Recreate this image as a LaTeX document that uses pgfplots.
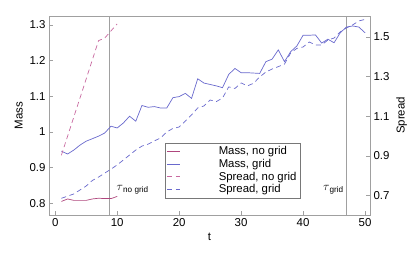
\documentclass[border=0pt]{standalone}
\usepackage{fontspec}
\setmainfont{Liberation Sans}
\usepackage{pgfplots}
\pgfplotsset{compat=1.18}
\definecolor{mag}{RGB}{175,70,125}
\definecolor{magl}{RGB}{200,105,160}
\definecolor{blu}{RGB}{105,105,205}
\definecolor{frm}{RGB}{160,160,160}
\begin{document}
\begin{tikzpicture}
\useasboundingbox (-49bp,-44bp) rectangle (367bp,215bp);
\pgfplotsset{
  base/.style={
    scale only axis, width=321bp, height=199bp,
    xmin=-1, xmax=50.8,
    font=\fontsize{11.5}{13}\selectfont,
    /pgf/number format/assume math mode=true,
    axis line style={frm},
    major tick style={frm},
    major tick length=4bp,
    tick align=inside,
  }
}
\begin{axis}[base,
  ymin=0.767, ymax=1.325,
  xtick={0,10,20,30,40,50},
  ytick={0.8,0.9,1,1.1,1.2,1.3},
  yticklabels={0.8,0.9,1,1.1,1.2,1.3},
  xtick pos=left, ytick pos=left,
  xlabel={t}, ylabel={Mass},
]
\addplot[frm, line width=0.6bp, forget plot] coordinates {(8.75,0.767) (8.75,1.325)};
\addplot[frm, line width=0.6bp, forget plot] coordinates {(47,0.767) (47,1.325)};
\addplot[mag, line width=0.7bp] coordinates {
(1,0.805) (2,0.812) (3,0.808) (4,0.808) (5,0.808) (6,0.812) (7,0.814) (8,0.813) (9,0.813) (10,0.819)};
\addplot[blu, line width=0.7bp] coordinates {
(1,0.946) (2,0.938) (3,0.949) (4,0.963) (5,0.974) (6,0.981) (7,0.988) (8,0.997) (9,1.016) (10,1.011)
(11,1.025) (12,1.044) (13,1.030) (14,1.074) (15,1.069) (16,1.071) (17,1.067) (18,1.067) (19,1.096) (20,1.099)
(21,1.108) (22,1.094) (23,1.149) (24,1.137) (25,1.133) (26,1.129) (27,1.124) (28,1.161) (29,1.178) (30,1.166)
(31,1.166) (32,1.165) (33,1.164) (34,1.197) (35,1.204) (36,1.230) (37,1.197) (38,1.225) (39,1.241) (40,1.271)
(41,1.271) (42,1.272) (43,1.249) (44,1.260) (45,1.250) (46,1.278) (47,1.294) (48,1.297) (49,1.294) (50,1.278)};
\node[anchor=base west, inner sep=0pt] at (axis cs:9.9,0.836) {$\tau$\raisebox{-2bp}{\fontsize{8.2}{9}\selectfont no grid}};
\node[anchor=base west, inner sep=0pt] at (axis cs:43.2,0.836) {$\tau$\raisebox{-2bp}{\fontsize{8.2}{9}\selectfont grid}};
\end{axis}
\begin{axis}[base,
  ymin=0.602, ymax=1.604,
  axis x line=none, axis y line*=right,
  ytick={0.7,0.9,1.1,1.3,1.5},
  yticklabels={0.7,0.9,1.1,1.3,1.5},
  ylabel={Spread},
  legend cell align=left,
  legend style={at={(rel axis cs:0.361,0.085)}, anchor=south west,
    draw={rgb,255:red,120;green,120;blue,120}, font=\fontsize{11.4}{12.5}\selectfont,
    row sep=-1bp, column sep=36bp, inner xsep=2bp, inner ysep=1.5bp},
  legend image code/.code={\draw[#1] (0bp,0bp) -- (13bp,0bp);},
]
\addlegendimage{mag, line width=0.7bp}
\addlegendentry{Mass, no grid}
\addlegendimage{blu, line width=0.7bp}
\addlegendentry{Mass, grid}
\addplot[magl, line width=0.7bp, dash pattern=on 5bp off 3.5bp] coordinates {
(1,0.903) (2,0.999) (3,1.095) (4,1.191) (5,1.287) (6,1.384) (7,1.480) (8,1.493) (9,1.529) (10,1.564)};
\addlegendentry{Spread, no grid}
\addplot[blu, line width=0.7bp, dash pattern=on 5bp off 3.5bp] coordinates {
(1,0.686) (2,0.697) (3,0.708) (4,0.728) (5,0.748) (6,0.776) (7,0.793) (8,0.813) (9,0.833) (10,0.854)
(11,0.879) (12,0.904) (13,0.929) (14,0.949) (15,0.959) (16,0.975) (17,0.990) (18,1.020) (19,1.038) (20,1.045)
(21,1.075) (22,1.106) (23,1.141) (24,1.151) (25,1.181) (26,1.173) (27,1.191) (28,1.247) (29,1.239) (30,1.267)
(31,1.252) (32,1.265) (33,1.297) (34,1.322) (35,1.337) (36,1.349) (37,1.362) (38,1.418) (39,1.441) (40,1.448)
(41,1.473) (42,1.458) (43,1.458) (44,1.483) (45,1.493) (46,1.524) (47,1.544) (48,1.559) (49,1.579) (50,1.587)};
\addlegendentry{Spread, grid}
\end{axis}
\end{tikzpicture}
\end{document}
